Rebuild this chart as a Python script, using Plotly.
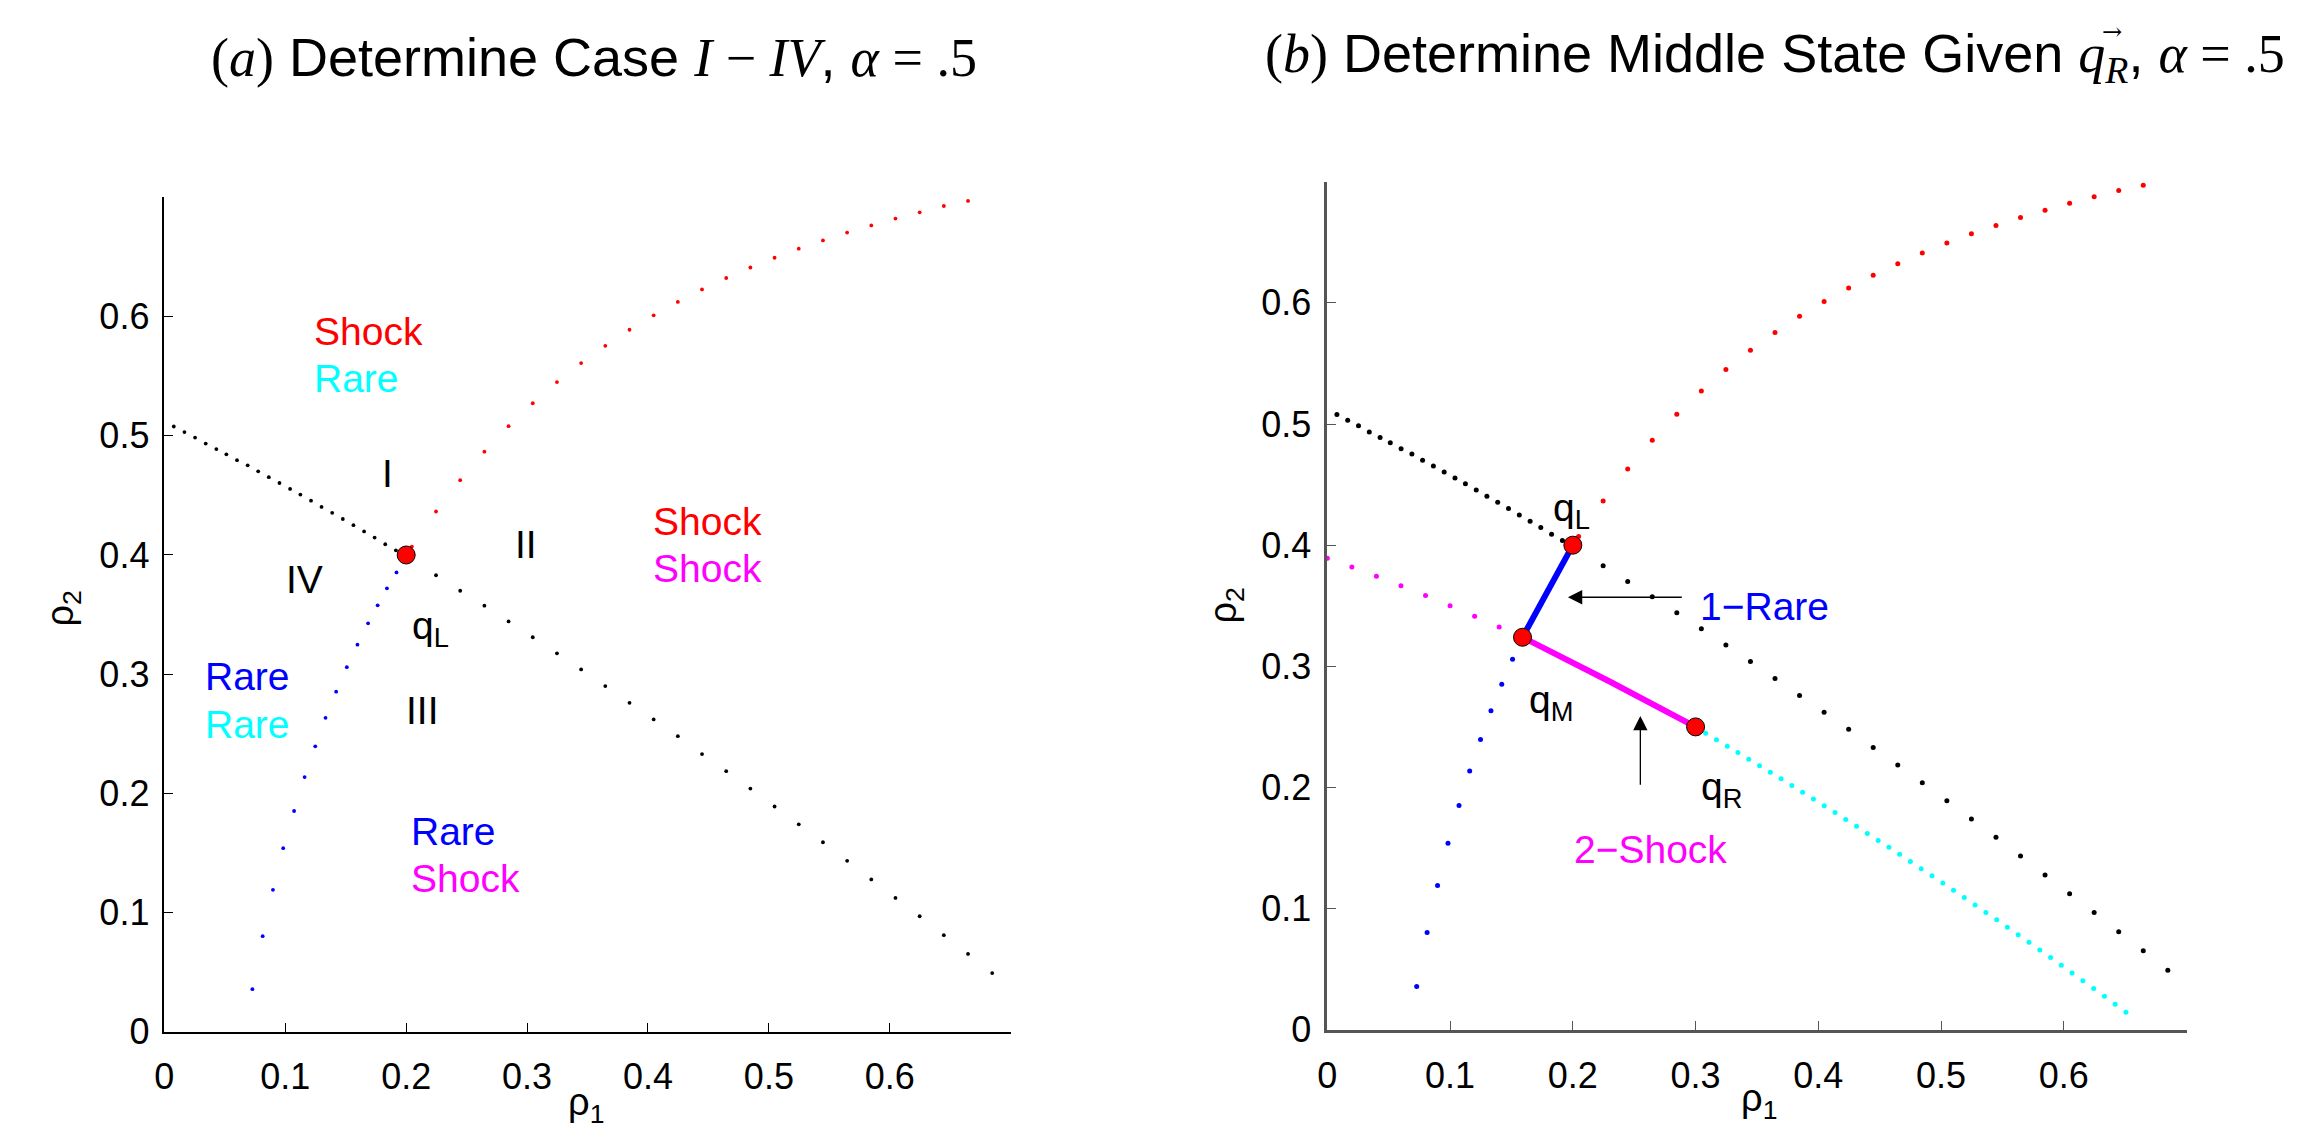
import plotly.graph_objects as go

# ---------------- data ----------------
# black dotted curve (left branch, dense) and right branch
black_left_x = [0.0078, 0.0166, 0.0254, 0.0342, 0.0430, 0.0513, 0.0601, 0.0689, 0.0776, 0.0864, 0.0952,
                0.1040, 0.1125, 0.1213, 0.1300, 0.1388, 0.1476, 0.1564, 0.1652, 0.1739, 0.1827, 0.1915]
black_left_y = [0.5078, 0.5031, 0.4985, 0.4935, 0.4889, 0.4845, 0.4796, 0.4752, 0.4702, 0.4653, 0.4604,
                0.4554, 0.4507, 0.4456, 0.4403, 0.4354, 0.4302, 0.4250, 0.4198, 0.4146, 0.4090, 0.4039]
black_right_x = [0.2247, 0.2447, 0.2647, 0.2847, 0.3047, 0.3247, 0.3447, 0.3647, 0.3847, 0.4047, 0.4247, 0.4447,
                 0.4647, 0.4847, 0.5047, 0.5247, 0.5447, 0.5647, 0.5847, 0.6047, 0.6247, 0.6447, 0.6647, 0.6847]
black_right_y = [0.3830, 0.3700, 0.3575, 0.3443, 0.3310, 0.3175, 0.3040, 0.2900, 0.2760, 0.2620, 0.2480, 0.2330,
                 0.2186, 0.2040, 0.1890, 0.1740, 0.1590, 0.1434, 0.1278, 0.1123, 0.0969, 0.0810, 0.0653, 0.0492]

# red dotted (shock) curve
red_x = [0.2047, 0.2247, 0.2447, 0.2647, 0.2847, 0.3047, 0.3247, 0.3447, 0.3647, 0.3847, 0.4047, 0.4247,
         0.4447, 0.4647, 0.4847, 0.5047, 0.5247, 0.5447, 0.5647, 0.5847, 0.6047, 0.6247, 0.6447, 0.6647]
red_y = [0.4071, 0.4365, 0.4628, 0.4867, 0.5081, 0.5273, 0.5451, 0.5610, 0.5755, 0.5890, 0.6011, 0.6123,
         0.6228, 0.6324, 0.6412, 0.6494, 0.6570, 0.6639, 0.6705, 0.6765, 0.6823, 0.6875, 0.6928, 0.6971]

# blue dotted (rarefaction) curve
blue_x = [0.1920, 0.1841, 0.1764, 0.1685, 0.1597, 0.1509, 0.1421, 0.1333, 0.1248, 0.1160, 0.1073,
          0.0983, 0.0898, 0.0813, 0.0728]
blue_y = [0.3854, 0.3720, 0.3578, 0.3427, 0.3248, 0.3059, 0.2853, 0.2634, 0.2395, 0.2137, 0.1852,
          0.1540, 0.1191, 0.0802, 0.0357]

# panel (b): magenta dotted, cyan dotted
mag_x = [0.00, 0.02, 0.04, 0.06, 0.08, 0.10, 0.12, 0.14]
mag_y = [0.3893, 0.3820, 0.3744, 0.3666, 0.3585, 0.3501, 0.3414, 0.3325]
cyan_x = [0.3082, 0.3170, 0.3258, 0.3345, 0.3433, 0.3521, 0.3609, 0.3697, 0.3784, 0.3872,
          0.3960, 0.4048, 0.4136, 0.4223, 0.4311, 0.4399, 0.4487, 0.4575, 0.4662, 0.4750,
          0.4838, 0.4926, 0.5014, 0.5101, 0.5189, 0.5277, 0.5365, 0.5453, 0.5540, 0.5628,
          0.5716, 0.5804, 0.5892, 0.5979, 0.6067, 0.6155, 0.6243, 0.6331, 0.6418, 0.6506]
cyan_y = [0.2447, 0.2394, 0.2341, 0.2288, 0.2234, 0.2180, 0.2126, 0.2071, 0.2016, 0.1961,
          0.1905, 0.1849, 0.1793, 0.1736, 0.1679, 0.1621, 0.1563, 0.1506, 0.1448, 0.1389,
          0.1330, 0.1271, 0.1211, 0.1151, 0.1091, 0.1030, 0.0969, 0.0908, 0.0846, 0.0784,
          0.0722, 0.0659, 0.0596, 0.0533, 0.0469, 0.0405, 0.0341, 0.0276, 0.0211, 0.0145]

# solid wave paths in panel (b)
rare1_x = [0.2000, 0.1920, 0.1841, 0.1764, 0.1685, 0.1590]
rare1_y = [0.4000, 0.3854, 0.3720, 0.3578, 0.3427, 0.3240]
shock2_x = [0.1590, 0.2300, 0.3000]
shock2_y = [0.3240, 0.2875, 0.2500]

# states
qL = (0.2, 0.4)
qM = (0.159, 0.324)
qR = (0.3, 0.25)

tick_vals = [0, 0.1, 0.2, 0.3, 0.4, 0.5, 0.6]
tick_text = ["0", "0.1", "0.2", "0.3", "0.4", "0.5", "0.6"]

SANS = "Liberation Sans"
SERIF = "Liberation Serif"
RED, BLUE, CYAN, MAG = "#ff0000", "#0000ff", "#00ffff", "#ff00ff"
W, H = 2316, 1137

fig = go.Figure()


def dots(x, y, color, size, xa, ya):
    fig.add_trace(go.Scatter(x=x, y=y, mode="markers", xaxis=xa, yaxis=ya, cliponaxis=False,
                             marker=dict(color=color, size=size, line=dict(width=0)),
                             showlegend=False, hoverinfo="skip"))


# panel (a)
S1 = 3.8
dots(black_left_x, black_left_y, "black", S1, "x", "y")
dots(black_right_x, black_right_y, "black", S1, "x", "y")
dots(red_x, red_y, RED, S1, "x", "y")
dots(blue_x, blue_y, BLUE, S1, "x", "y")
fig.add_trace(go.Scatter(x=[qL[0]], y=[qL[1]], mode="markers", xaxis="x", yaxis="y", cliponaxis=False,
                         marker=dict(color=RED, size=18, line=dict(color="black", width=1)),
                         showlegend=False, hoverinfo="skip"))

# panel (b)
S2 = 5
dots(black_left_x, black_left_y, "black", S2, "x2", "y2")
dots(black_right_x, black_right_y, "black", S2, "x2", "y2")
dots(red_x, red_y, RED, S2, "x2", "y2")
dots(blue_x[5:], blue_y[5:], BLUE, S2, "x2", "y2")
dots(mag_x, mag_y, MAG, S2, "x2", "y2")
dots(cyan_x, cyan_y, CYAN, S2, "x2", "y2")
fig.add_trace(go.Scatter(x=rare1_x, y=rare1_y, mode="lines", xaxis="x2", yaxis="y2",
                         line=dict(color=BLUE, width=6), showlegend=False, hoverinfo="skip"))
fig.add_trace(go.Scatter(x=shock2_x, y=shock2_y, mode="lines", xaxis="x2", yaxis="y2",
                         line=dict(color=MAG, width=6), showlegend=False, hoverinfo="skip"))
fig.add_trace(go.Scatter(x=[qL[0], qM[0], qR[0]], y=[qL[1], qM[1], qR[1]], mode="markers",
                         xaxis="x2", yaxis="y2", cliponaxis=False,
                         marker=dict(color=RED, size=18, line=dict(color="black", width=1)),
                         showlegend=False, hoverinfo="skip"))

ann = []


def txt(x, y, s, color="black", xa="x", ya="y", anchor="center", size=39):
    ann.append(dict(x=x, y=y, xref=xa, yref=ya, text=s, showarrow=False, xanchor=anchor,
                    yanchor="middle", font=dict(family=SANS, size=size, color=color)))


# panel (a) labels
txt(0.1218, 0.5876, "Shock", RED, anchor="left")
txt(0.1218, 0.5477, "Rare", CYAN, anchor="left")
txt(0.4029, 0.4284, "Shock", RED, anchor="left")
txt(0.4029, 0.3885, "Shock", MAG, anchor="left")
txt(0.0321, 0.2980, "Rare", BLUE, anchor="left")
txt(0.0321, 0.2576, "Rare", CYAN, anchor="left")
txt(0.2025, 0.1683, "Rare", BLUE, anchor="left")
txt(0.2025, 0.1288, "Shock", MAG, anchor="left")
txt(0.1844, 0.4686, "I")
txt(0.2988, 0.4085, "II")
txt(0.2137, 0.2694, "III")
txt(0.1160, 0.3792, "IV")
txt(0.2200, 0.3380, "q<sub>L</sub>")

# panel (b) labels
txt(0.1990, 0.4290, "q<sub>L</sub>", xa="x2", ya="y2")
txt(0.1820, 0.2700, "q<sub>M</sub>", xa="x2", ya="y2")
txt(0.3210, 0.1980, "q<sub>R</sub>", xa="x2", ya="y2")
txt(0.3017, 0.3496, "1\u2212Rare", BLUE, xa="x2", ya="y2", anchor="left")
txt(0.1990, 0.1490, "2\u2212Shock", MAG, xa="x2", ya="y2", anchor="left")

# arrows
ann.append(dict(x=0.196, y=0.357, ax=0.290, ay=0.357, xref="x2", yref="y2", axref="x2", ayref="y2",
                text="", showarrow=True, arrowhead=2, arrowsize=2.2, arrowwidth=1.3, arrowcolor="black"))
ann.append(dict(x=0.255, y=0.259, ax=0.255, ay=0.201, xref="x2", yref="y2", axref="x2", ayref="y2",
                text="", showarrow=True, arrowhead=2, arrowsize=2.2, arrowwidth=1.3, arrowcolor="black"))

# titles
ser = "font-family:%s" % SERIF
title_a = ("<span style='%s'>(<i>a</i>)</span> Determine Case "
           "<span style='%s'><i>I</i> \u2212 <i>IV</i></span>, "
           "<span style='%s'><i>\u03b1</i> = .5</span>") % (ser, ser, ser)
title_b = ("<span style='%s'>(<i>b</i>)</span> Determine Middle State Given "
           "<span style='%s'><i>q</i><sub><i>R</i></sub></span>, "
           "<span style='%s'><i>\u03b1</i> = .5</span>") % (ser, ser, ser)
TSZ = 54
ann.append(dict(x=578 / W, y=1 - 50 / H, xref="paper", yref="paper", text=title_a, showarrow=False,
                xanchor="center", yanchor="middle", font=dict(family=SANS, size=TSZ, color="black")))
ann.append(dict(x=1250 / W, y=1 - 50 / H, xref="paper", yref="paper", text=title_b, showarrow=False,
                xanchor="left", yanchor="middle", font=dict(family=SANS, size=TSZ, color="black")))
# vector arrow over the q in title (b)
ann.append(dict(x=2103 / W, y=1 - 24 / H, xref="paper", yref="paper", text="\u2192", showarrow=False,
                xanchor="center", yanchor="middle", font=dict(family="DejaVu Serif", size=24, color="black")))

# axis titles
for cx, cy, s, rot in [(570, 1118, "\u03c1<sub>1</sub>", 0), (1749, 1114, "\u03c1<sub>1</sub>", 0),
                       (45, 612, "\u03c1<sub>2</sub>", -90), (1213, 609, "\u03c1<sub>2</sub>", -90)]:
    ann.append(dict(x=cx / W, y=1 - cy / H, xref="paper", yref="paper", text=s, showarrow=False,
                    xanchor="center", yanchor="middle", textangle=rot,
                    font=dict(family=SANS, size=38, color="black")))

fig.update_layout(annotations=ann)


def axis(domain, anchor, lc, lw, standoff):
    return dict(domain=domain, anchor=anchor, range=[0, 0.7], showgrid=False, zeroline=False,
                showline=True, linecolor=lc, linewidth=lw, mirror=False, ticks="inside", ticklen=9,
                tickcolor=lc, tickwidth=1, tickvals=tick_vals, ticktext=tick_text,
                tickfont=dict(family=SANS, size=36, color="black"), ticklabelstandoff=standoff,
                fixedrange=True)


fig.update_layout(
    width=W, height=H, margin=dict(l=0, r=0, t=0, b=0),
    paper_bgcolor="white", plot_bgcolor="white", showlegend=False,
    xaxis=axis([147 / W, 997 / W], "y", "black", 1.5, 12),
    yaxis=axis([1 - 1043 / H, 1 - 193 / H], "x", "black", 1.5, 6),
    xaxis2=axis([1315 / W, 2178 / W], "y2", "#555555", 2.5, 12),
    yaxis2=axis([1 - 1041 / H, 1 - 177 / H], "x2", "#555555", 2.5, 6),
)

fig.write_html("out.html")
